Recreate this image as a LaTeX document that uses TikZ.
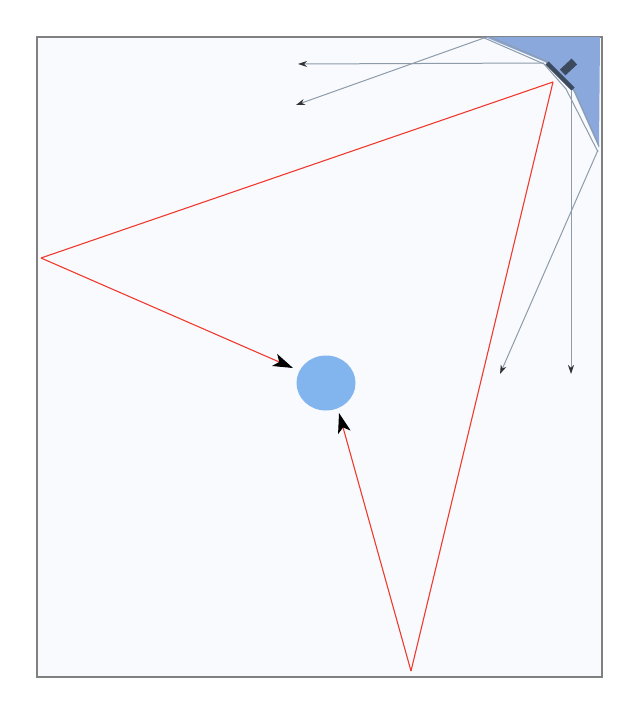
\documentclass[tikz,border=0pt]{standalone}
\usetikzlibrary{arrows.meta,shapes.geometric}
\definecolor{bgfill}{HTML}{F8FAFE}
\definecolor{frame}{HTML}{808080}
\definecolor{wedge}{HTML}{8AA8DC}
\definecolor{ray}{HTML}{8E9CAA}
\definecolor{dev}{HTML}{3C4A5E}
\definecolor{ball}{HTML}{82B4EE}
\definecolor{redline}{HTML}{F03A2E}
\tikzset{
  raystyle/.style={draw=ray, line width=1pt, -{Stealth[length=9pt,width=6pt,color=black!80]}},
  redray/.style={draw=redline, line width=1.1pt},
  redarrow/.style={draw=redline, line width=1.1pt, -{Stealth[length=20pt,width=13pt,inset=5pt,color=black]}},
}
\begin{document}
\begin{tikzpicture}[x=1pt,y=-1pt]
\useasboundingbox (0,0) rectangle (641,709);
% frame
\node[draw=frame, fill=bgfill, line width=1.6pt, minimum width=565pt, minimum height=640pt, inner sep=0pt, anchor=north west] (box) at (36,36) {};
% blue wedge
\fill[wedge] (485,37) -- (545,62) -- (573,90) -- (599,148) -- (600,37) -- cycle;
% gray polylines (boundary)
\draw[ray, line width=1pt] (482,37) -- (544,64) -- (566,89) -- (598,152);
\draw[ray, line width=1pt] (490,37) -- (546,61) -- (575,92) -- (599,146);
% device
\coordinate (d1) at (547,63);
\coordinate (d2) at (573,89);
\draw[dev, line width=4.5pt] (d1) -- (d2);
\fill[dev, rotate around={43:(568.5,67)}] (560.5,63) rectangle (576.5,71);
% gray rays
\coordinate (s1) at (544,63);
\coordinate (e1) at (298,64);
\coordinate (s2) at (484,38);
\coordinate (e2) at (296,105);
\coordinate (s3) at (598,150);
\coordinate (e3) at (500,374);
\coordinate (s4) at (571,90);
\coordinate (e4) at (571,374);
\draw[raystyle] (s1) -- (e1);
\draw[raystyle] (s2) -- (e2);
\draw[raystyle] (s3) -- (e3);
\draw[raystyle] (s4) -- (e4);
% ball
\node[ellipse, fill=ball, minimum width=59pt, minimum height=55pt, inner sep=0pt, draw=none] (target) at (326,383) {};
% red rays
\coordinate (src) at (553,82);
\coordinate (left) at (41,258);
\coordinate (bot) at (411,671);
\coordinate (t1) at (293,368);
\coordinate (t2) at (339,413);
\draw[redray] (src) -- (left);
\draw[redarrow] (left) -- (t1);
\draw[redray] (src) -- (bot);
\draw[redarrow] (bot) -- (t2);
\end{tikzpicture}
\end{document}
